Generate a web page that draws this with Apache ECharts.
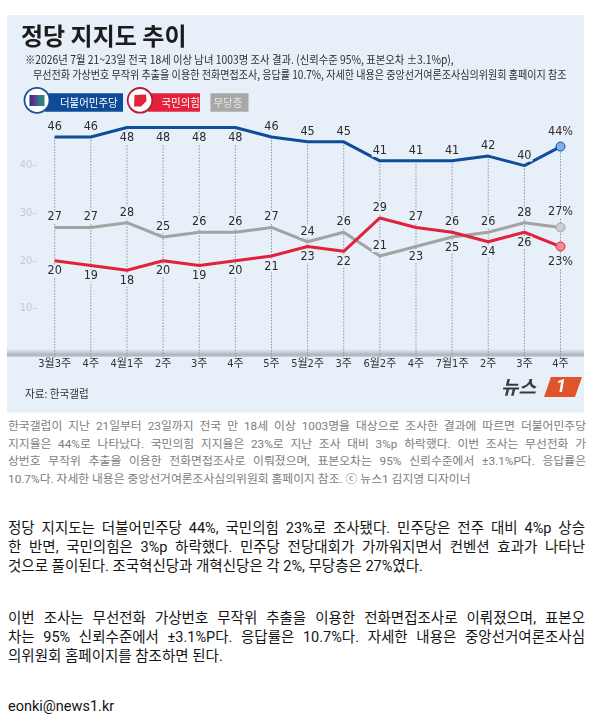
<!DOCTYPE html>
<html>
<head>
<meta charset="utf-8">
<script src="https://cdn.jsdelivr.net/npm/echarts@6/dist/echarts.min.js"></script>
<style>
html,body{margin:0;padding:0;background:#fff;width:594px;height:718px;overflow:hidden;}
#chart{position:absolute;left:0;top:0;width:594px;height:415px;}
.blk{position:absolute;left:8px;width:578px;font-family:Roboto,'Noto Sans CJK KR',sans-serif;}
.blk div{white-space:nowrap;}
.blk span{white-space:nowrap;display:inline-block;}
.cap{top:417.9px;font-size:11.8px;line-height:17.7px;color:#7d7d7d;}
.art{font-size:14.5px;line-height:19.3px;color:#141414;width:577px;}
</style>
</head>
<body>
<div id="chart"></div>

<div class="blk cap">
<div class="j"><span>한국갤럽이 지난 21일부터 23일까지 전국 만 18세 이상 1003명을 대상으로 조사한 결과에 따르면 더불어민주당</span></div>
<div class="j"><span>지지율은 44%로 나타났다. 국민의힘 지지율은 23%로 지난 조사 대비 3%p 하락했다. 이번 조사는 무선전화 가</span></div>
<div class="j"><span>상번호 무작위 추출을 이용한 전화면접조사로 이뤄졌으며, 표본오차는 95% 신뢰수준에서 ±3.1%P다. 응답률은</span></div>
<div><span>10.7%다. 자세한 내용은 중앙선거여론조사심의위원회 홈페이지 참조. ⓒ 뉴스1 김지영 디자이너</span></div>
</div>

<div class="blk art" style="top:518.7px">
<div class="j"><span>정당 지지도는 더불어민주당 44%, 국민의힘 23%로 조사됐다. 민주당은 전주 대비 4%p 상승</span></div>
<div class="j"><span>한 반면, 국민의힘은 3%p 하락했다. 민주당 전당대회가 가까워지면서 컨벤션 효과가 나타난</span></div>
<div><span>것으로 풀이된다. 조국혁신당과 개혁신당은 각 2%, 무당층은 27%였다.</span></div>
</div>

<div class="blk art" style="top:608.7px">
<div class="j"><span>이번 조사는 무선전화 가상번호 무작위 추출을 이용한 전화면접조사로 이뤄졌으며, 표본오</span></div>
<div class="j"><span>차는 95% 신뢰수준에서 ±3.1%P다. 응답률은 10.7%다. 자세한 내용은 중앙선거여론조사심</span></div>
<div><span>의위원회 홈페이지를 참조하면 된다.</span></div>
</div>

<div class="blk art" style="top:697px">
<div><span>eonki@news1.kr</span></div>
</div>

<script>
// ---- data ----
const categories = ['3월3주','4주','4월1주','2주','3주','4주','5주','5월2주','3주','6월2주','4주','7월1주','2주','3주','4주'];
const demValues = [46,46,48,48,48,48,46,45,45,41,41,41,42,40,44];
const pppValues = [20,19,18,20,19,20,21,23,22,29,27,26,24,26,23];
const indValues = [27,27,28,25,26,26,27,24,26,21,23,25,26,28,27];
const yTickLabels = [10,20,30,40];
const seriesNames = ['더불어민주당','국민의힘','무당층'];

// ---- justify text lines ----
function justify(){
  document.querySelectorAll('.j').forEach(el=>{
    const span = el.firstElementChild;
    span.style.wordSpacing = '0px';
    const W = el.getBoundingClientRect().width;
    const nat = span.getBoundingClientRect().width;
    const n = (span.textContent.match(/ /g)||[]).length;
    if(n) span.style.wordSpacing = ((W-nat)/n)+'px';
  });
}
justify();
if(document.fonts && document.fonts.ready) document.fonts.ready.then(justify);

// ---- chart ----
const PANEL = '#e7eff9';
const NUM_FONT = "'Liberation Sans Narrow','DejaVu Sans Condensed','Roboto Condensed',Roboto,'Noto Sans CJK KR',sans-serif";
const KR_FONT = "'Noto Sans CJK KR',sans-serif";
const H = 415, GRID_TOP = 118, GRID_BOTTOM = 59, GRID_LEFT = 54.7, GRID_RIGHT = 33.5;
const last = categories.length - 1;

function makeSeries(name, values, color, dotColor, below){
  return {
    name: name, type: 'line',
    data: values.map((v,i)=>({value:v, label:{position: below.indexOf(i)>=0 ? 'bottom' : 'top'}})),
    lineStyle: {color: color, width: 3},
    itemStyle: {color: dotColor, borderColor: color, borderWidth: 1},
    symbol: 'circle',
    symbolSize: (v, p) => p.dataIndex === last ? 9 : 0,
    showSymbol: true,
    label: {
      show: true, distance: 4, fontSize: 12.5, fontFamily: NUM_FONT, color: '#2b2b2b',
      backgroundColor: PANEL, padding: [0, 1],
      formatter: p => p.dataIndex === last ? p.value + '%' : String(p.value)
    },
    emphasis: {disabled: true},
    z: 3
  };
}

const chart = echarts.init(document.getElementById('chart'));
const bandY = H - GRID_BOTTOM;

chart.setOption({
  animation: false,
  backgroundColor: 'transparent',
  title: {
    text: '정당 지지도 추이', left: 21, top: 24, padding: 0,
    textStyle: {fontFamily: KR_FONT, fontSize: 24, fontWeight: 'bold', color: '#1c1c1c', lineHeight: 24}
  },
  grid: {left: GRID_LEFT, right: GRID_RIGHT, top: GRID_TOP, bottom: GRID_BOTTOM, containLabel: false, outerBoundsMode: 'none'},
  xAxis: {
    type: 'category', data: categories, boundaryGap: false,
    axisLine: {show: false}, axisTick: {show: false}, splitLine: {show: false},
    axisLabel: {interval: 0, margin: 3, fontSize: 11, color: '#333', fontFamily: NUM_FONT}
  },
  yAxis: {
    type: 'value', min: 0, max: 50, interval: 10,
    axisLine: {show: false}, axisTick: {show: false}, splitLine: {show: false},
    axisLabel: {margin: 17.5, fontSize: 11, color: '#c3cbd6', fontFamily: NUM_FONT,
      formatter: v => yTickLabels.indexOf(v) >= 0 ? v + '–' : ''}
  },
  graphic: {elements: [
    {type:'rect', z:-10, shape:{x:7, y:15, width:577, height:397.5}, style:{fill:PANEL}},
    {type:'rect', z:-5, shape:{x:7, y:bandY-7, width:577, height:8},
      style:{fill:new echarts.graphic.LinearGradient(0,0,0,1,[
        {offset:0,color:'rgba(170,178,188,0)'},{offset:0.75,color:'#a9b2bd'},{offset:1,color:'#cfd6de'}])}},
    // subtitle
    {type:'text', x:25, y:60, scaleX:0.9, style:{text:'※2026년 7월 21~23일 전국 18세 이상 남녀 1003명 조사 결과. (신뢰수준 95%, 표본오차 ±3.1%p),', font:"11.5px 'Noto Sans CJK KR'", fill:'#2e2e2e', verticalAlign:'middle'}},
    {type:'text', x:33, y:75, scaleX:0.875, style:{text:'무선전화 가상번호 무작위 추출을 이용한 전화면접조사, 응답률 10.7%, 자세한 내용은 중앙선거여론조사심의위원회 홈페이지 참조', font:"11.5px 'Noto Sans CJK KR'", fill:'#2e2e2e', verticalAlign:'middle'}},
    // legend: 더불어민주당
    {type:'rect', z:5, shape:{x:45, y:93.3, width:78, height:18.4}, style:{fill:'#0f4c98'}},
    {type:'circle', z:6, shape:{cx:37, cy:100.3, r:12.5}, style:{fill:'#fff', stroke:'#1c4f93', lineWidth:1.8}},
    {type:'rect', z:7, shape:{x:29.5, y:95, width:15, height:11}, style:{fill:new echarts.graphic.LinearGradient(0,0,1,0,[
        {offset:0,color:'#27327c'},{offset:0.35,color:'#5b3c9c'},{offset:0.65,color:'#2f7a8c'},{offset:1,color:'#2a8a6a'}])}},
    {type:'text', z:8, x:60, y:102.5, scaleX:0.9, style:{text:seriesNames[0], font:"11.6px 'Noto Sans CJK KR'", fill:'#fff', verticalAlign:'middle'}},
    // legend: 국민의힘
    {type:'rect', z:5, shape:{x:148, y:93.3, width:52, height:18.4}, style:{fill:'#e3233c'}},
    {type:'circle', z:6, shape:{cx:140, cy:100.3, r:12.3}, style:{fill:'#fff', stroke:'#b01e30', lineWidth:1.8}},
    {type:'polygon', z:7, shape:{points:[[134.5,95],[146,94.5],[146.5,101],[141,106.5],[134,106.5]]}, style:{fill:'#e3233c'}},
    {type:'text', z:8, x:161.5, y:102.5, scaleX:0.9, style:{text:seriesNames[1], font:"11.6px 'Noto Sans CJK KR'", fill:'#fff', verticalAlign:'middle'}},
    // legend: 무당층
    {type:'rect', z:5, shape:{x:210.5, y:93.3, width:38, height:18.4}, style:{fill:'#a8a8a8'}},
    {type:'text', z:8, x:213.5, y:102.5, scaleX:0.9, style:{text:seriesNames[2], font:"11.6px 'Noto Sans CJK KR'", fill:'#e6e6e6', verticalAlign:'middle'}},
    // source
    {type:'text', x:25, y:394, scaleX:0.92, style:{text:'자료: 한국갤럽', font:"11.5px 'Noto Sans CJK KR'", fill:'#333', verticalAlign:'middle'}},
    // logo
    {type:'text', x:501, y:387, style:{text:'뉴스', font:"italic bold 19px 'Noto Sans CJK KR'", fill:'#3a3a3a', verticalAlign:'middle'}},
    {type:'polygon', shape:{points:[[544,397],[551,377],[582,377],[575,397]]}, style:{fill:'#e0532b'}},
    {type:'text', x:561, y:387.5, style:{text:'1', font:"italic bold 18px Roboto", fill:'#fff', align:'center', verticalAlign:'middle'}}
  ]},
  series: [
    {
      type: 'custom', silent: true, z: 1,
      data: demValues.map((v,i)=>[i,v]),
      encode: {x: 0, y: 1},
      renderItem: (params, api) => {
        const top = api.coord([api.value(0), api.value(1)]);
        const bot = api.coord([api.value(0), 0]);
        return {type:'line', shape:{x1:top[0], y1:top[1], x2:bot[0], y2:bot[1]+3},
          style:{stroke:'#8e959d', lineWidth:1, lineDash:[1.5,1.5]}};
      }
    },
    makeSeries(seriesNames[2], indValues, '#a3a3a3', '#cdcdcd', [10,11]),
    makeSeries(seriesNames[1], pppValues, '#e2213b', '#f28a98', [0,1,2,3,4,5,6,7,8,12,13,14]),
    makeSeries(seriesNames[0], demValues, '#0d4d9b', '#7fb0e6', [2,3,4,5])
  ]
});
</script>
</body>
</html>
